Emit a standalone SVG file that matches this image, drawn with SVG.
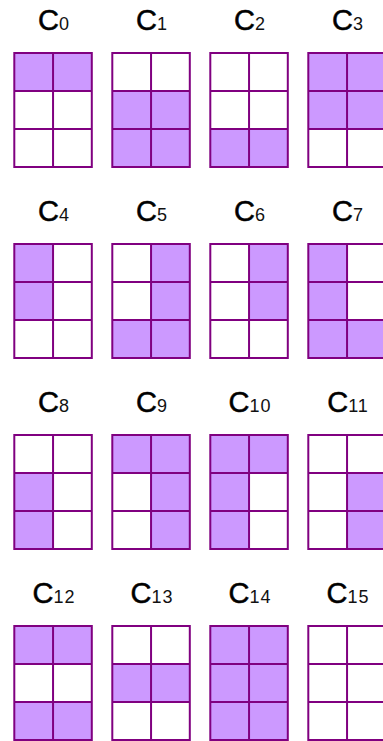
<svg xmlns="http://www.w3.org/2000/svg" xmlns:xlink="http://www.w3.org/1999/xlink" width="383" height="741" viewBox="0 0 383 741">
<style>
.f{fill:#cc99ff}
.g{fill:none;stroke:#800080;stroke-width:2}
.lbl{font-family:"Liberation Sans",Arial,sans-serif;font-size:29px;fill:#000;stroke:#000;stroke-width:0.5px;text-anchor:middle}
.sub{font-size:18px;stroke:none;fill:#111;letter-spacing:1px}
</style>
<defs>
<path id="grid" class="g" d="M0,0H77.5V114H0Z M38.75,0V114 M0,38H77.5 M0,76H77.5"/>
<rect id="c" class="f" width="38.75" height="38"/>
</defs>
<rect width="383" height="741" fill="#fff"/>
<g id="connectors"/>
<g id="C0" transform="translate(14.3,53)">
<use xlink:href="#c" x="0" y="0"/><use xlink:href="#c" x="38.75" y="0"/>
<use xlink:href="#grid"/>
<text class="lbl" x="39.75" y="-23">C<tspan class="sub">0</tspan></text>
</g>
<g id="C1" transform="translate(112.3,53)">
<use xlink:href="#c" x="0" y="38"/><use xlink:href="#c" x="38.75" y="38"/>
<use xlink:href="#c" x="0" y="76"/><use xlink:href="#c" x="38.75" y="76"/>
<use xlink:href="#grid"/>
<text class="lbl" x="39.75" y="-23">C<tspan class="sub">1</tspan></text>
</g>
<g id="C2" transform="translate(210.3,53)">
<use xlink:href="#c" x="0" y="76"/><use xlink:href="#c" x="38.75" y="76"/>
<use xlink:href="#grid"/>
<text class="lbl" x="39.75" y="-23">C<tspan class="sub">2</tspan></text>
</g>
<g id="C3" transform="translate(308.3,53)">
<use xlink:href="#c" x="0" y="0"/><use xlink:href="#c" x="38.75" y="0"/>
<use xlink:href="#c" x="0" y="38"/><use xlink:href="#c" x="38.75" y="38"/>
<use xlink:href="#grid"/>
<text class="lbl" x="39.75" y="-23">C<tspan class="sub">3</tspan></text>
</g>
<g id="C4" transform="translate(14.3,244)">
<use xlink:href="#c" x="0" y="0"/><use xlink:href="#c" x="0" y="38"/>
<use xlink:href="#grid"/>
<text class="lbl" x="39.75" y="-23">C<tspan class="sub">4</tspan></text>
</g>
<g id="C5" transform="translate(112.3,244)">
<use xlink:href="#c" x="38.75" y="0"/><use xlink:href="#c" x="38.75" y="38"/>
<use xlink:href="#c" x="0" y="76"/><use xlink:href="#c" x="38.75" y="76"/>
<use xlink:href="#grid"/>
<text class="lbl" x="39.75" y="-23">C<tspan class="sub">5</tspan></text>
</g>
<g id="C6" transform="translate(210.3,244)">
<use xlink:href="#c" x="38.75" y="0"/><use xlink:href="#c" x="38.75" y="38"/>
<use xlink:href="#grid"/>
<text class="lbl" x="39.75" y="-23">C<tspan class="sub">6</tspan></text>
</g>
<g id="C7" transform="translate(308.3,244)">
<use xlink:href="#c" x="0" y="0"/><use xlink:href="#c" x="0" y="38"/>
<use xlink:href="#c" x="0" y="76"/><use xlink:href="#c" x="38.75" y="76"/>
<use xlink:href="#grid"/>
<text class="lbl" x="39.75" y="-23">C<tspan class="sub">7</tspan></text>
</g>
<g id="C8" transform="translate(14.3,435)">
<use xlink:href="#c" x="0" y="38"/><use xlink:href="#c" x="0" y="76"/>
<use xlink:href="#grid"/>
<text class="lbl" x="39.75" y="-23">C<tspan class="sub">8</tspan></text>
</g>
<g id="C9" transform="translate(112.3,435)">
<use xlink:href="#c" x="0" y="0"/><use xlink:href="#c" x="38.75" y="0"/>
<use xlink:href="#c" x="38.75" y="38"/><use xlink:href="#c" x="38.75" y="76"/>
<use xlink:href="#grid"/>
<text class="lbl" x="39.75" y="-23">C<tspan class="sub">9</tspan></text>
</g>
<g id="C10" transform="translate(210.3,435)">
<use xlink:href="#c" x="0" y="0"/><use xlink:href="#c" x="38.75" y="0"/>
<use xlink:href="#c" x="0" y="38"/><use xlink:href="#c" x="0" y="76"/>
<use xlink:href="#grid"/>
<text class="lbl" x="39.75" y="-23">C<tspan class="sub">10</tspan></text>
</g>
<g id="C11" transform="translate(308.3,435)">
<use xlink:href="#c" x="38.75" y="38"/><use xlink:href="#c" x="38.75" y="76"/>
<use xlink:href="#grid"/>
<text class="lbl" x="39.75" y="-23">C<tspan class="sub">11</tspan></text>
</g>
<g id="C12" transform="translate(14.3,626)">
<use xlink:href="#c" x="0" y="0"/><use xlink:href="#c" x="38.75" y="0"/>
<use xlink:href="#c" x="0" y="76"/><use xlink:href="#c" x="38.75" y="76"/>
<use xlink:href="#grid"/>
<text class="lbl" x="39.75" y="-23">C<tspan class="sub">12</tspan></text>
</g>
<g id="C13" transform="translate(112.3,626)">
<use xlink:href="#c" x="0" y="38"/><use xlink:href="#c" x="38.75" y="38"/>
<use xlink:href="#grid"/>
<text class="lbl" x="39.75" y="-23">C<tspan class="sub">13</tspan></text>
</g>
<g id="C14" transform="translate(210.3,626)">
<use xlink:href="#c" x="0" y="0"/><use xlink:href="#c" x="38.75" y="0"/>
<use xlink:href="#c" x="0" y="38"/><use xlink:href="#c" x="38.75" y="38"/>
<use xlink:href="#c" x="0" y="76"/><use xlink:href="#c" x="38.75" y="76"/>
<use xlink:href="#grid"/>
<text class="lbl" x="39.75" y="-23">C<tspan class="sub">14</tspan></text>
</g>
<g id="C15" transform="translate(308.3,626)">
<use xlink:href="#grid"/>
<text class="lbl" x="39.75" y="-23">C<tspan class="sub">15</tspan></text>
</g>
</svg>
